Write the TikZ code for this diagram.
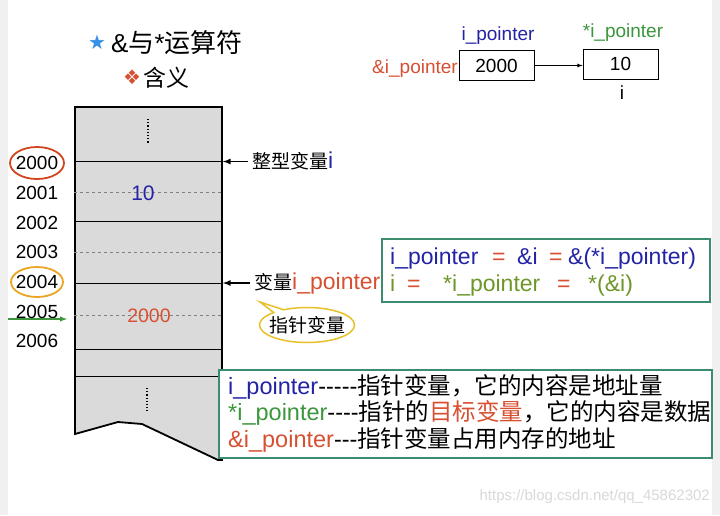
\documentclass[tikz,border=0pt]{standalone}
\usepackage{fontspec}
\setmainfont{Liberation Sans}
\newfontfamily\cjk{Noto Sans CJK SC}
\newfontfamily\symfont{DejaVu Sans}
\newcommand\hz[1]{{\cjk #1}}
\newcommand\idf[1]{{\fontsize{23}{23}\selectfont #1}}
\usetikzlibrary{positioning,calc,shapes.callouts}

\definecolor{ptrblue}{RGB}{35,35,165}
\definecolor{ptrred}{RGB}{215,80,50}
\definecolor{ptrgreen}{RGB}{60,150,60}
\definecolor{ptrolive}{RGB}{110,150,40}
\definecolor{boxgreen}{RGB}{60,140,110}
\definecolor{memgray}{RGB}{218,218,218}
\definecolor{edgegray}{RGB}{240,240,240}
\definecolor{starblue}{RGB}{55,145,230}
\definecolor{bubyellow}{RGB}{232,192,40}
\definecolor{ringred}{RGB}{210,70,30}
\definecolor{ringorange}{RGB}{235,165,35}

\begin{document}
\begin{tikzpicture}[x=1pt,y=-1pt,
    fs/.style={font=\fontsize{#1}{#1}\selectfont,inner sep=0pt},
    cell/.style={draw=black,line width=0.8pt,minimum width=75pt,minimum height=30pt,inner sep=0pt,fs=19},
    tag/.style={fs=19,anchor=base west,text height=16pt,text depth=3pt},
    arr/.style={-latex,line width=1.6pt},
    greenbox/.style={draw=boxgreen,line width=1.8pt,fill=white,inner sep=0pt},
    bubble/.style={ellipse callout,draw=bubyellow,line width=1.5pt,fill=white,minimum width=95pt,minimum height=35pt,inner sep=0pt}]
    \useasboundingbox (0,0) rectangle (720,515);
    \fill[white] (0,0) rectangle (720,515);
    \fill[edgegray] (0,0) rectangle (8,515);
    \fill[edgegray] (712,0) rectangle (720,515);

    % heading
    \node[fs=20,text=starblue] (star) at (97,42) {\symfont ★};
    \node[fs=26,anchor=base west] (title) at (111,52) {\&\hz{与}*\hz{运算符}};
    \node[fs=20,text=ptrred] (diamond) at (132,77) {\symfont ❖};
    \node[fs=23,anchor=base west] (mean) at (143,86) {\hz{含义}};

    % memory
    \node[draw=black,line width=1.8pt,fill=memgray,minimum width=147pt,minimum height=270pt,inner sep=0pt] (mem) at (148.5,242) {};
    \filldraw[fill=memgray,line width=1.8pt] (75,377) -- (75,434) -- (118,422) -- (142,424) -- (218,460) -- (222,460) -- (222,377);
    \foreach \y in {161.5,221,283,349}{
        \draw[line width=0.8pt] (mem.west |- 0,\y) -- (mem.east |- 0,\y);
    }
    \foreach \y in {192,252,315}{
        \draw[dashed,gray,line width=0.8pt] (mem.west |- 0,\y) -- (mem.east |- 0,\y);
    }
    \draw[dotted,line width=1.2pt] (148,119) -- (148,143);
    \draw[dotted,line width=1.2pt] (147,388) -- (147,411);
    \node[fs=21,text=ptrblue] (ival) at (143,193) {10};
    \node[fs=19.5,text=ptrred] (pval) at (149,316) {2000};

    \foreach \a/\y in {2000/163,2001/193,2002/223,2003/252,2004/282,2005/312,2006/341}{
        \node[fs=19] (a\a) at (37,\y) {\a};
    }
    \draw[ringred,line width=1.8pt] (a2000) ellipse [x radius=27pt,y radius=16pt];
    \draw[ringorange,line width=1.8pt] (a2004) ellipse [x radius=26pt,y radius=15pt];
    \coordinate (gin) at (8,319);
    \coordinate (gout) at (67,319);
    \draw[-latex,ptrgreen,line width=1.4pt] (gin) -- (gout);

    % labels at the right of the memory
    \node[tag] (lbli) at (252,168) {\hz{整型变量}{\color{ptrblue}\idf{i}}};
    \node[tag] (lblp) at (254,289.5) {\hz{变量}{\color{ptrred}\idf{i\_pointer}}};
    \draw[arr] ([xshift=-4pt]lbli.west) -- (lbli.west -| mem.east);
    \draw[arr] ([xshift=-4pt]lblp.west) -- (lblp.west -| mem.east);
    \node[bubble,callout absolute pointer={(260,302)}] (bub) at (307,325) {};
    \node[fs=19] (bubtxt) at (bub.center) {\hz{指针变量}};

    % relations
    \node[greenbox,minimum width=328pt,minimum height=63pt] (fbox) at (546,270.5) {};
    \foreach \x/\y/\c/\t [count=\k] in {390/264/ptrblue/{i\_pointer},492/264/ptrred/{=},517/264/ptrblue/{\&i},
        549/264/ptrred/{=},568/264/ptrblue/{\&(*i\_pointer)},390/291/ptrolive/{i},407/291/ptrred/{=},
        443/291/ptrolive/{*i\_pointer},557/291/ptrred/{=},588/291/ptrolive/{*(\&i)}}{
        \node[fs=23,anchor=base west,text=\c] (f\k) at (\x,\y) {\t};
    }

    % notes
    \node[greenbox,minimum width=493pt,minimum height=88pt] (nbox) at (465.5,414) {};
    \node[fs=23.5,anchor=base west] (n1) at (228,394) {{\color{ptrblue}i\_pointer}-{}-{}-{}-{}-\hz{指针变量，它的内容是地址量}};
    \node[fs=23.5,anchor=base west] (n2) at (228,420) {{\color{ptrgreen}*i\_pointer}-{}-{}-{}-\hz{指针的{\color{ptrred}目标变量}，它的内容是数据}};
    \node[fs=23.5,anchor=base west] (n3) at (228,447) {{\color{ptrred}\&i\_pointer}-{}-{}-\hz{指针变量占用内存的地址}};

    % pointer sketch
    \node[cell] (pbox) at (496.5,65.5) {2000};
    \node[cell] (ibox) at (620.5,64) {10};
    \draw[-latex,line width=0.8pt] (pbox.east) -- (pbox.east -| ibox.west);
    \node[fs=19,anchor=base,text=ptrblue] (pname) at (498,40) {i\_pointer};
    \node[fs=19,anchor=base,text=ptrgreen] (tname) at (623,37.5) {*i\_pointer};
    \node[fs=19,anchor=base east,text=ptrred] (paddr) at (458,73) {\&i\_pointer};
    \node[fs=19,anchor=base] (iname) at (622,99) {i};

    \node[fs=15,anchor=east,text=black!15] (wm) at (710,497) {https://blog.csdn.net/qq\_45862302};
\end{tikzpicture}
\end{document}
